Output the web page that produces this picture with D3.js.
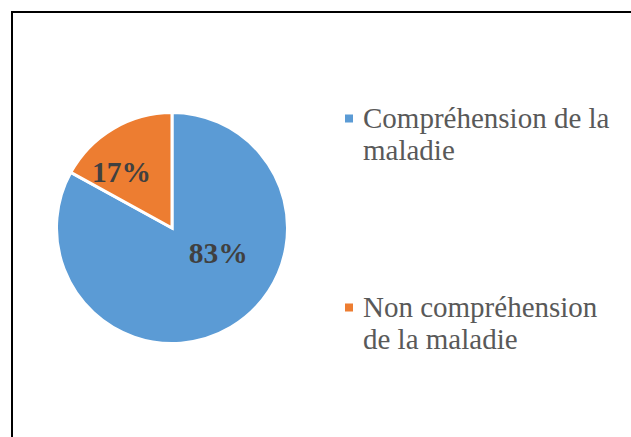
<!DOCTYPE html>
<html>
<head>
<meta charset="utf-8">
<script src="https://cdn.jsdelivr.net/npm/d3@7"></script>
<style>
  html, body { margin: 0; padding: 0; background: #fff; }
  svg { display: block; }
</style>
</head>
<body>
<svg id="chart" width="631" height="437"></svg>
<script>
// Data
const categories = ["Compréhension de la maladie", "Non compréhension de la maladie"];
const values = [83, 17];
const colors = ["#5B9BD5", "#ED7D31"];
const legendLines = [["Compréhension de la", "maladie"], ["Non compréhension", "de la maladie"]];

const svg = d3.select("#chart");
const font = "'Liberation Serif', 'Times New Roman', serif";

// Frame (open to the right and bottom)
svg.append("rect")
  .attr("x", 12).attr("y", 12)
  .attr("width", 700).attr("height", 500)
  .attr("fill", "none")
  .attr("stroke", "#000")
  .attr("stroke-width", 2);

// Pie
const cx = 172, cy = 228, radius = 115.5;
const pie = d3.pie().sort(null).value(d => d)(values);
const arc = d3.arc().innerRadius(0).outerRadius(radius);

const g = svg.append("g").attr("transform", `translate(${cx},${cy})`);
g.selectAll("path.slice")
  .data(pie)
  .join("path")
  .attr("class", "slice")
  .attr("d", arc)
  .attr("fill", (d, i) => colors[i])
  .attr("stroke", "#fff")
  .attr("stroke-width", 3)
  .attr("stroke-linejoin", "miter");

// Data labels placed at a polar position (angle from top, clockwise; fraction of radius)
const labelPlacement = [{ angle: 118.5, frac: 0.455 }, { angle: 318, frac: 0.655 }];
g.selectAll("text.val")
  .data(pie)
  .join("text")
  .attr("class", "val")
  .attr("x", (d, i) => Math.sin(labelPlacement[i].angle * Math.PI / 180) * radius * labelPlacement[i].frac)
  .attr("y", (d, i) => -Math.cos(labelPlacement[i].angle * Math.PI / 180) * radius * labelPlacement[i].frac)
  .attr("dy", "0.33em")
  .attr("text-anchor", "middle")
  .attr("font-family", font)
  .attr("font-weight", "bold")
  .attr("font-size", 29.5)
  .attr("fill", "#404040")
  .text(d => d.data + "%");

// Legend
const legendY = d3.scaleOrdinal().domain(categories).range([118.5, 307.5]);
const items = svg.append("g").selectAll("g.item")
  .data(categories)
  .join("g")
  .attr("class", "item")
  .attr("transform", d => `translate(345,${legendY(d)})`);

items.append("rect")
  .attr("x", 0).attr("y", -4)
  .attr("width", 8).attr("height", 8)
  .attr("fill", (d, i) => colors[i]);

items.each(function (d, i) {
  const t = d3.select(this).append("text")
    .attr("font-family", font)
    .attr("font-size", 29)
    .attr("fill", "#595959");
  legendLines[i].forEach((line, j) => {
    t.append("tspan")
      .attr("x", 18)
      .attr("y", 9.8 + j * 31.5)
      .text(line);
  });
});
</script>
</body>
</html>
